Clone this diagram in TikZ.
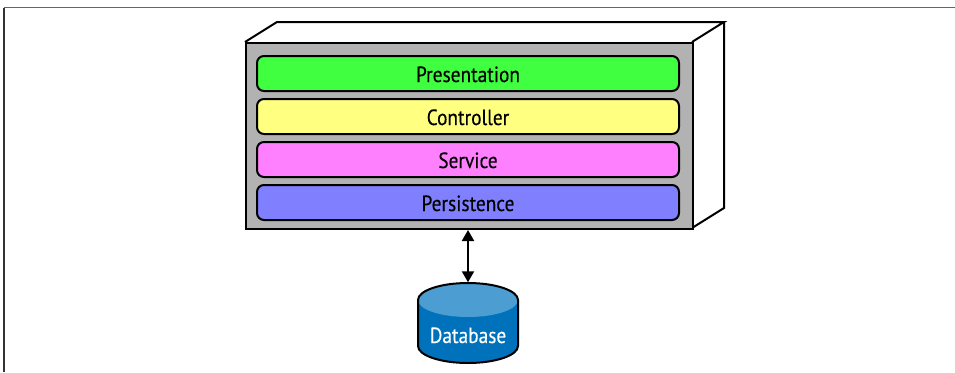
\documentclass[tikz,border=0pt]{standalone}
\usepackage{fontspec}
\setmainfont[FakeStretch=0.88,FakeBold=0.25]{PT Sans}
\usetikzlibrary{arrows.meta}
\definecolor{frontgray}{HTML}{B2B2B2}
\definecolor{pres}{HTML}{40FF40}
\definecolor{ctrl}{HTML}{FFFF80}
\definecolor{serv}{HTML}{FF80FF}
\definecolor{pers}{HTML}{8080FF}
\definecolor{dbbody}{HTML}{0072BC}
\definecolor{dbtop}{HTML}{4C9ED2}
\tikzset{
  outline/.style={draw=black,line width=2pt,line join=miter},
  layertext/.style={font=\fontsize{22}{24}\selectfont,text height=20pt,text depth=3pt,inner sep=0pt},
  layerbox/.style={layertext,draw=black,line width=2pt,rounded corners=7pt,minimum width=422pt,minimum height=35pt,text=black},
  biarrow/.style={line width=2pt,{Triangle[length=11pt,width=12pt]}-{Triangle[length=11pt,width=12pt]},shorten >=0.5pt,shorten <=0.5pt}
}
\begin{document}
\begin{tikzpicture}[x=1pt,y=-1pt]
\useasboundingbox (0,0) rectangle (955,372);
\draw[line width=1.4pt,draw=black!60] (4,7.5) -- (955,7.5);
\draw[line width=1.4pt,draw=black!80] (4,7.5) -- (4,372);
\fill[white] (245,42) -- (277,22) -- (724,22) -- (724,208) -- (692,228) -- cycle;
\draw[outline] (245,42) -- (277,22) -- (724,22) -- (692,42);
\draw[outline] (724,22) -- (724,208) -- (692,228);
\node[outline,fill=frontgray,minimum width=447pt,minimum height=186pt,inner sep=0pt,anchor=north west] (front) at (244.5,41.5) {};
\node[layerbox,fill=pres] (presentation) at (468,73.5) {Presentation};
\node[layerbox,fill=ctrl] (controller) at (468,116.5) {Controller};
\node[layerbox,fill=serv] (service) at (468,159.5) {Service};
\node[layerbox,fill=pers] (persistence) at (468,202.5) {Persistence};
\fill[dbbody] (418,300) -- (418,346) arc[start angle=180,end angle=0,x radius=50,y radius=17] -- (518,300) -- cycle;
\fill[dbtop] (418,300) arc[start angle=180,end angle=0,x radius=50,y radius=17] arc[start angle=0,end angle=-180,x radius=50,y radius=17] -- cycle;
\draw[draw=black,line width=2pt] (418,300) -- (418,346) arc[start angle=180,end angle=0,x radius=50,y radius=17] -- (518,300) arc[start angle=0,end angle=-180,x radius=50,y radius=17] -- cycle;
\node[minimum width=100pt,minimum height=80pt,inner sep=0pt] (db) at (468,323) {};
\node[layertext,text=white] (dblabel) at (468,334.5) {Database};
\draw[biarrow] (front.south -| db.center) -- (db.north);
\end{tikzpicture}
\end{document}
